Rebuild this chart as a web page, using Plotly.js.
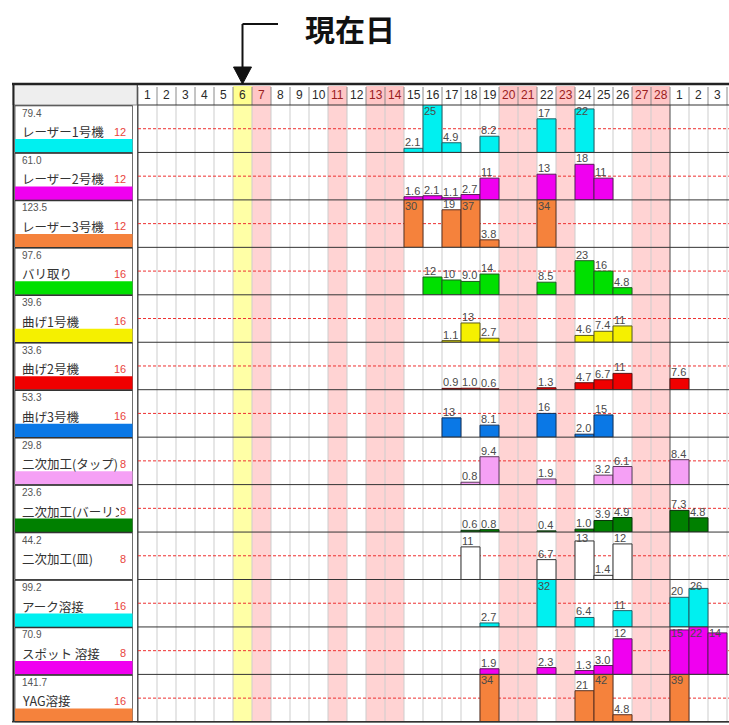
<!DOCTYPE html>
<html>
<head>
<meta charset="utf-8">
<script src="https://cdn.plot.ly/plotly-3.0.1.min.js"></script>
<style>
html, body {margin:0; padding:0; background:#fff;}
#plotArea {width:729px; height:725px;}
</style>
</head>
<body>
<div id="plotArea"></div>
<script>
// columns: days 1-28 of this month, then 1-3 of next month
var dayLabels = [1,2,3,4,5,6,7,8,9,10,11,12,13,14,15,16,17,18,19,20,21,22,23,24,25,26,27,28,1,2,3];
var holidays = [7,11,13,14,20,21,23,27,28];   // column numbers
var today = 6;

var machines = ["レーザー1号機","レーザー2号機","レーザー3号機","バリ取り","曲げ1号機","曲げ2号機","曲げ3号機",
    "二次加工(タップ)","二次加工(バーリング)","二次加工(皿)","アーク溶接","スポット 溶接","YAG溶接"];
var totals = ["79.4","61.0","123.5","97.6","39.6","33.6","53.3","29.8","23.6","44.2","99.2","70.9","141.7"];
var capacity = [12,12,12,16,16,16,16,8,8,8,16,8,16];

// loads per machine: column numbers and hours
var laser1Days = [15,16,17,19,22,24];
var laser1Vals = [2.1,25,4.9,8.2,17,22];
var laser2Days = [15,16,17,18,19,22,24,25];
var laser2Vals = [1.6,2.1,1.1,2.7,11,13,18,11];
var laser3Days = [15,17,18,19,22];
var laser3Vals = [30,19,37,3.8,34];
var deburDays = [16,17,18,19,22,24,25,26];
var deburVals = [12,10,9.0,14,8.5,23,16,4.8];
var bend1Days = [17,18,19,24,25,26];
var bend1Vals = [1.1,13,2.7,4.6,7.4,11];
var bend2Days = [17,18,19,22,24,25,26,29];
var bend2Vals = [0.9,1.0,0.6,1.3,4.7,6.7,11,7.6];
var bend3Days = [17,19,22,24,25];
var bend3Vals = [13,8.1,16,2.0,15];
var tapDays = [18,19,22,25,26,29];
var tapVals = [0.8,9.4,1.9,3.2,6.1,8.4];
var burrDays = [18,19,22,24,25,26,29,30];
var burrVals = [0.6,0.8,0.4,1.0,3.9,4.9,7.3,4.8];
var sinkDays = [18,22,24,25,26];
var sinkVals = [11,6.7,13,1.4,12];
var arcDays = [19,22,24,26,29,30];
var arcVals = [2.7,32,6.4,11,20,26];
var spotDays = [19,22,24,25,26,29,30,31];
var spotVals = [1.9,2.3,1.3,3.0,12,15,22,14];
var yagDays = [19,24,25,26,29];
var yagVals = [34,21,42,4.8,39];

var loadDays = [laser1Days,laser2Days,laser3Days,deburDays,bend1Days,bend2Days,bend3Days,tapDays,burrDays,sinkDays,arcDays,spotDays,yagDays];
var loadVals = [laser1Vals,laser2Vals,laser3Vals,deburVals,bend1Vals,bend2Vals,bend3Vals,tapVals,burrVals,sinkVals,arcVals,spotVals,yagVals];

var barColors = ["#00f0f0","#f000f0","#f5823c","#00e000","#f5f000","#f00000","#0a78e6","#f5a0f5","#008000","#ffffff","#00f0f0","#f000f0","#f5823c"];
var edgeColors = ["#1f5f66","#5a1a5a","#5a3020","#1f5a1f","#5a5a1f","#5a1010","#10305a","#5a3a5a","#0a300a","#333333","#1f5f66","#5a1a5a","#5a3020"];

// page geometry (pixels)
var W = 729, H = 725;
var x0px = 138, colW = 19;
var headTop = 84, rowTop = 105, rowH = 47.45;
var nRows = machines.length;
var nCols = dayLabels.length;

function fx(px) { return px / W; }
function fy(py) { return 1 - py / H; }
function colPx(c) { return x0px + (c - 0.5) * colW; }

var data = [];
var shapes = [];
var annotations = [];

var layout = {
    width: W, height: H,
    margin: {l:0, r:0, t:0, b:0},
    paper_bgcolor: "#ffffff",
    plot_bgcolor: "rgba(0,0,0,0)",
    showlegend: false,
    xaxis: {domain: [fx(x0px), 1], range: [0.5, 0.5 + (W - x0px) / colW], visible: false, fixedrange: true}
};

function rect(xref, x0, x1, y0, y1, fill, lineCol, lw, layer) {
    shapes.push({type: "rect", xref: xref, yref: "paper", x0: x0, x1: x1, y0: y0, y1: y1,
        fillcolor: fill, line: {color: lineCol, width: lw}, layer: layer || "above"});
}
function seg(xref, x0, x1, y0, y1, color, lw, layer) {
    shapes.push({type: "line", xref: xref, yref: "paper", x0: x0, x1: x1, y0: y0, y1: y1,
        line: {color: color, width: lw}, layer: layer || "above"});
}

var tableBottom = rowTop + rowH * nRows;

// column backgrounds (holidays pink, today yellow)
for (var c = 1; c <= nCols; c++) {
    var bg = null, headBg = null;
    if (c <= 28 && holidays.indexOf(c) >= 0) { bg = "#ffd3d3"; headBg = "#ffc6c6"; }
    if (c === today) { bg = "#ffffa6"; headBg = "#ffff90"; }
    if (bg) {
        rect("x", c - 0.5, c + 0.5, fy(tableBottom), fy(rowTop), bg, "rgba(0,0,0,0)", 0, "below");
        rect("x", c - 0.5, c + 0.5, fy(headTop + 2), fy(rowTop), headBg, "rgba(0,0,0,0)", 0, "below");
    }
}

// vertical grid lines
for (var c = 0; c <= nCols; c++) {
    var xb = c + 0.5;
    var gcol = (c === 28 || c === 0) ? "#4a4a4a" : "#cdcdcd";
    seg("x", xb, xb, fy(tableBottom), fy(rowTop), gcol, 1, "below");
    seg("x", xb, xb, fy(rowTop), fy(headTop + 3), "#8a8a8a", 1, "below");
}

// header numbers
for (var c = 1; c <= nCols; c++) {
    var hol = c <= 28 && holidays.indexOf(c) >= 0;
    annotations.push({xref: "x", yref: "paper", x: c, y: fy((headTop + rowTop) / 2 + 0.5),
        text: String(dayLabels[c - 1]), showarrow: false, xanchor: "center", yanchor: "middle",
        font: {family: "Liberation Sans, Arial, sans-serif", size: 12, color: hol ? "#9a2020" : "#2a2a2a"}});
}

// rows
for (var i = 0; i < nRows; i++) {
    var rTop = rowTop + rowH * i;
    var rBot = rTop + rowH;
    var key = i === 0 ? "" : String(i + 1);
    var ymax = capacity[i] * 2;
    layout["yaxis" + key] = {domain: [fy(rBot), fy(rTop)], range: [0, ymax], visible: false, fixedrange: true};

    data.push({
        type: "bar", x: loadDays[i], y: loadVals[i], width: 1,
        xaxis: "x", yaxis: "y" + key,
        marker: {color: barColors[i], line: {color: edgeColors[i], width: 1}},
        hoverinfo: "skip"
    });

    // capacity line
    shapes.push({type: "line", xref: "x", yref: "y" + key, x0: 0.5, x1: nCols + 0.6, y0: capacity[i], y1: capacity[i],
        line: {color: "#ee3030", width: 1, dash: "3px,2px"}, layer: "below"});

    // value labels
    for (var k = 0; k < loadVals[i].length; k++) {
        var v = loadVals[i][k];
        var txt = v >= 10 ? String(Math.round(v)) : v.toFixed(1);
        var inside = v / ymax * rowH + 9.5 > rowH;
        annotations.push({xref: "x", yref: "y" + key, x: loadDays[i][k] - 0.5, y: inside ? ymax : v,
            xanchor: "left", yanchor: inside ? "top" : "bottom", yshift: inside ? 2 : -2, xshift: -1,
            text: txt, showarrow: false,
            font: {family: "Liberation Sans, Arial, sans-serif", size: 11, color: "#4a4a4a"}});
    }

    // left panel cell
    rect("paper", fx(15), fx(132.5), fy(rBot), fy(rTop + 0.5), "#ffffff", "#707070", 1);
    if (barColors[i] !== "#ffffff") {
        rect("paper", fx(15), fx(132.5), fy(rBot), fy(rTop + 34), barColors[i], "rgba(0,0,0,0)", 0);
    }
    seg("paper", fx(15), fx(132.5), fy(rTop + 0.5), fy(rTop + 0.5), "#333333", 1.5);
    annotations.push({xref: "paper", yref: "paper", x: fx(20), y: fy(rTop + 8), xanchor: "left", yanchor: "middle",
        text: totals[i], showarrow: false,
        font: {family: "Liberation Sans, Arial, sans-serif", size: 10, color: "#555555"}});
    annotations.push({xref: "paper", yref: "paper", x: fx(20), y: fy(rTop + 26.5), xanchor: "left", yanchor: "middle",
        text: machines[i], showarrow: false, width: 97, align: "left",
        font: {family: "Noto Sans CJK JP, sans-serif", size: 12.5, color: "#333333"}});
    annotations.push({xref: "paper", yref: "paper", x: fx(128), y: fy(rTop + 26.5), xanchor: "right", yanchor: "middle",
        text: String(capacity[i]), showarrow: false,
        font: {family: "Liberation Sans, Arial, sans-serif", size: 11, color: "#e8453c"}});
}

// row separators
for (var i = 0; i <= nRows; i++) {
    var yb = rowTop + rowH * i;
    seg("paper", fx(x0px - 1), 1, fy(yb), fy(yb), "#333333", 1);
}

// frame and header left cell
rect("paper", fx(13), fx(137), fy(rowTop), fy(headTop), "#eeeeee", "#888888", 1);
seg("paper", fx(137.5), fx(137.5), fy(tableBottom), fy(headTop), "#555555", 1);
seg("paper", fx(12), 1, fy(headTop), fy(headTop), "#222222", 2.5);
seg("paper", fx(13.5), fx(13.5), fy(tableBottom), fy(headTop), "#222222", 2);
seg("paper", fx(12), 1, fy(tableBottom), fy(tableBottom), "#333333", 1.5);

// "today" marker
var ax = colPx(today);
seg("paper", fx(ax), fx(278), fy(24), fy(24), "#111111", 2);
seg("paper", fx(ax), fx(ax), fy(24), fy(70), "#111111", 2);
shapes.push({type: "path", xref: "paper", yref: "paper",
    path: "M " + fx(ax - 9) + " " + fy(67) + " L " + fx(ax + 9) + " " + fy(67) + " L " + fx(ax) + " " + fy(84) + " Z",
    fillcolor: "#111111", line: {color: "#111111", width: 1}});
annotations.push({xref: "paper", yref: "paper", x: fx(350), y: fy(28), xanchor: "center", yanchor: "middle",
    text: "<b>現在日</b>", showarrow: false,
    font: {family: "Noto Sans CJK JP, sans-serif", size: 30, color: "#111111"}});

layout.shapes = shapes;
layout.annotations = annotations;

Plotly.newPlot("plotArea", data, layout, {staticPlot: true, displayModeBar: false});
</script>
</body>
</html>
